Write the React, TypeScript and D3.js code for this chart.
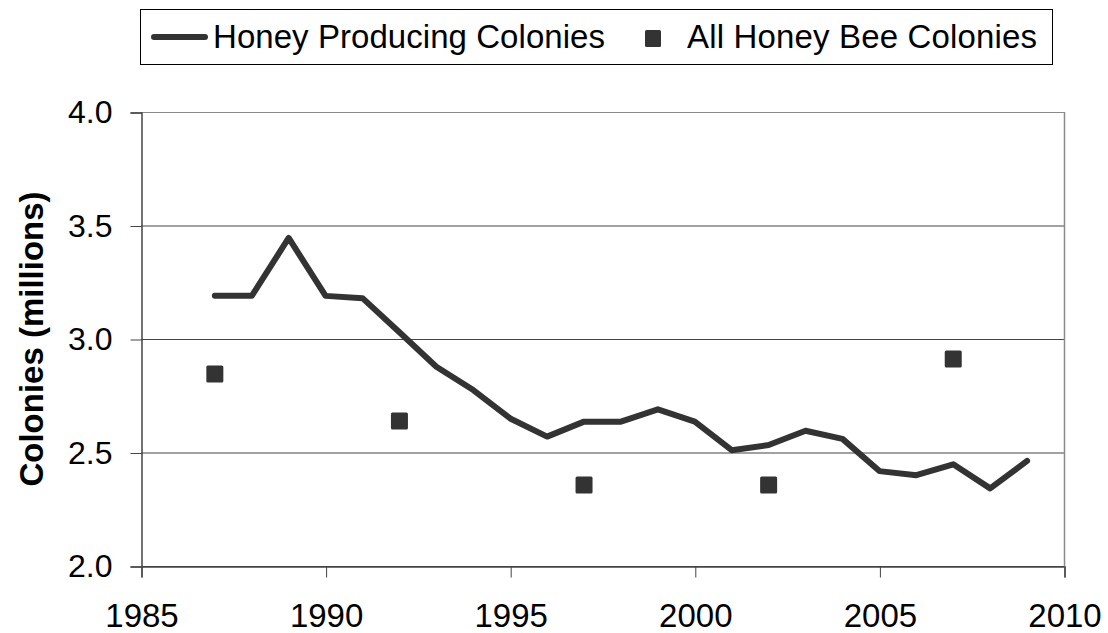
import React, { useRef, useEffect } from "react";
import * as d3 from "d3";

const years = [1987, 1988, 1989, 1990, 1991, 1992, 1993, 1994, 1995, 1996, 1997, 1998, 1999, 2000, 2001, 2002, 2003, 2004, 2005, 2006, 2007, 2008, 2009];
const honeyProducing = [3.19, 3.19, 3.445, 3.19, 3.18, 3.03, 2.878, 2.775, 2.65, 2.57, 2.636, 2.636, 2.69, 2.636, 2.51, 2.533, 2.596, 2.56, 2.418, 2.40, 2.448, 2.342, 2.463];
const censusYears = [1987, 1992, 1997, 2002, 2007];
const allColonies = [2.846, 2.639, 2.357, 2.357, 2.912];
const xTicks = [1985, 1990, 1995, 2000, 2005, 2010];
const yTicks = [2.0, 2.5, 3.0, 3.5, 4.0];

const App = () => {
	const chartRef = useRef<SVGSVGElement>(null);

	useEffect(() => {
		const width = 1108;
		const height = 633;
		const margin = { top: 112, right: 44, bottom: 67, left: 141 };
		const ink = "#333333";
		const font = "Arial, 'Liberation Sans', sans-serif";

		const svg = d3.select(chartRef.current);
		svg.selectAll("*").remove();
		svg.attr("width", width).attr("height", height);

		const x = d3.scaleLinear().domain([1985, 2010]).range([margin.left, width - margin.right]);
		const y = d3.scaleLinear().domain([2, 4]).range([height - margin.bottom, margin.top]);

		// gridlines
		svg.append("g")
			.selectAll("line")
			.data(yTicks)
			.enter()
			.append("line")
			.attr("x1", margin.left)
			.attr("x2", width - margin.right)
			.attr("y1", d => y(d) + 0.5)
			.attr("y2", d => y(d) + 0.5)
			.attr("stroke", d => (d === 4 ? "#8a8a8a" : "#444"))
			.attr("stroke-width", 1);

		// right border
		svg.append("line")
			.attr("x1", width - margin.right + 0.5)
			.attr("x2", width - margin.right + 0.5)
			.attr("y1", margin.top)
			.attr("y2", height - margin.bottom)
			.attr("stroke", "#8a8a8a")
			.attr("stroke-width", 1.5);

		// y axis
		const yAxis = svg.append("g")
			.attr("transform", `translate(${margin.left + 0.5},0.5)`)
			.call(d3.axisLeft(y).tickValues(yTicks).tickSize(11).tickPadding(18).tickFormat(d3.format(".1f")));
		yAxis.select(".domain").attr("stroke", "#444").attr("stroke-width", 1.5);
		yAxis.selectAll(".tick line").attr("stroke", "#444");
		yAxis.selectAll("text")
			.attr("font-family", font)
			.attr("font-size", 32)
			.attr("fill", "#000");

		// x axis
		const xAxis = svg.append("g")
			.attr("transform", `translate(0.5,${height - margin.bottom + 0.5})`)
			.call(d3.axisBottom(x).tickValues(xTicks).tickSize(11).tickPadding(26).tickFormat(d3.format("d")));
		xAxis.select(".domain").attr("stroke", "#444").attr("stroke-width", 1.5);
		xAxis.selectAll(".tick line").attr("stroke", "#444");
		xAxis.selectAll("text")
			.attr("font-family", font)
			.attr("font-size", 33)
			.attr("fill", "#000");

		// y title
		svg.append("text")
			.attr("transform", `translate(43,${(margin.top + height - margin.bottom) / 2}) rotate(-90)`)
			.attr("text-anchor", "middle")
			.attr("font-family", font)
			.attr("font-size", 33)
			.attr("font-weight", "bold")
			.attr("fill", "#000")
			.text("Colonies (millions)");

		// honey producing line
		const line = d3.line<number>()
			.x((d, i) => x(years[i]))
			.y(d => y(d));

		svg.append("path")
			.datum(honeyProducing)
			.attr("d", line)
			.attr("fill", "none")
			.attr("stroke", ink)
			.attr("stroke-width", 6)
			.attr("stroke-linejoin", "round")
			.attr("stroke-linecap", "round");

		// all colonies squares
		const sq = 17;
		svg.append("g")
			.selectAll("rect")
			.data(allColonies)
			.enter()
			.append("rect")
			.attr("x", (d, i) => x(censusYears[i]) - sq / 2)
			.attr("y", d => y(d) - sq / 2)
			.attr("width", sq)
			.attr("height", sq)
			.attr("rx", 1.5)
			.attr("fill", ink);

		// legend
		const legend = svg.append("g");
		legend.append("rect")
			.attr("x", 140.5)
			.attr("y", 9.5)
			.attr("width", 912)
			.attr("height", 55)
			.attr("fill", "#fff")
			.attr("stroke", "#000")
			.attr("stroke-width", 1);
		legend.append("line")
			.attr("x1", 154)
			.attr("x2", 205)
			.attr("y1", 37)
			.attr("y2", 37)
			.attr("stroke", ink)
			.attr("stroke-width", 6)
			.attr("stroke-linecap", "round");
		legend.append("text")
			.attr("x", 213)
			.attr("y", 48)
			.attr("font-family", font)
			.attr("font-size", 33)
			.attr("textLength", 392)
			.attr("fill", "#000")
			.text("Honey Producing Colonies");
		legend.append("rect")
			.attr("x", 645)
			.attr("y", 30)
			.attr("width", 16)
			.attr("height", 17)
			.attr("rx", 1.5)
			.attr("fill", ink);
		legend.append("text")
			.attr("x", 687)
			.attr("y", 48)
			.attr("font-family", font)
			.attr("font-size", 33)
			.attr("textLength", 350)
			.attr("fill", "#000")
			.text("All Honey Bee Colonies");
	}, []);

	return (
		<div style={{ position: "absolute", left: 0, top: 0 }}>
			<svg ref={chartRef}></svg>
		</div>
	);
};

export default App;
